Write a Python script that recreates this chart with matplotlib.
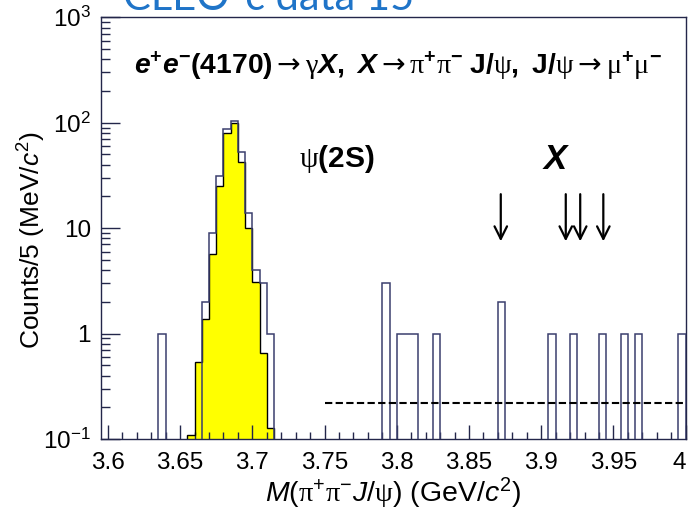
import numpy as np
import matplotlib
matplotlib.use('Agg')
import matplotlib.pyplot as plt
from matplotlib.ticker import MultipleLocator, FuncFormatter, LogLocator, FixedLocator, FixedFormatter, NullFormatter

plt.rcParams.update({
    'font.family': ['Liberation Sans', 'DejaVu Sans'],
    'mathtext.fontset': 'custom',
    'mathtext.rm': 'Liberation Sans',
    'mathtext.it': 'Liberation Sans:italic',
    'mathtext.bf': 'Liberation Sans:bold',
    'mathtext.bfit': 'Liberation Sans:bold:italic',
    'mathtext.sf': 'Liberation Serif',
    'mathtext.tt': 'DejaVu Sans',
})

# ---------------- data ----------------
bin_width = 0.005
x_range = (3.595, 4.0)
y_range = (0.1, 1000)

# data histogram (counts per 5 MeV bin), lower bin edges
data_bin_low = [3.635, 3.665, 3.670, 3.675, 3.680, 3.685, 3.690, 3.695, 3.700,
                3.705, 3.710, 3.790, 3.800, 3.805, 3.810, 3.825, 3.870, 3.905,
                3.920, 3.940, 3.955, 3.965, 3.995]
data_counts = [1, 2, 9, 31, 87, 103, 53, 14, 4, 3, 1, 3, 1, 1, 1, 1, 2, 1, 1, 1, 1, 1, 1]

# yellow (psi(2S)) histogram
sig_bin_low = [3.655, 3.660, 3.665, 3.670, 3.675, 3.680, 3.685, 3.690, 3.695,
               3.700, 3.705, 3.710]
sig_values = [0.11, 0.54, 1.39, 5.7, 24.9, 80, 100, 42, 10, 3.1, 0.65, 0.128]

# X candidate arrows
arrow_x = [3.872, 3.917, 3.927, 3.943]
arrow_top = 21
arrow_bottom = 7.5

# background level (dashed)
bkg_level = 0.22
bkg_x = [3.75, 4.0]

xtick_vals = [3.6, 3.65, 3.7, 3.75, 3.8, 3.85, 3.9, 3.95, 4.0]
xtick_labels = ['3.6', '3.65', '3.7', '3.75', '3.8', '3.85', '3.9', '3.95', '4']
ytick_vals = [0.1, 1, 10, 100, 1000]
ytick_labels = [r'$10^{-1}$', '1', '10', r'$10^{2}$', r'$10^{3}$']

ARW = r'\mathtt{\rightarrow}'
title_text = (r'$\mathbfit{e}^{\mathbf{+}}\mathbfit{e}^{\mathbf{-}}\mathbf{(4170)}' + ARW +
              r'\mathsf{\gamma}\mathbfit{X}\mathbf{,}\;\;\mathbfit{X}' + ARW +
              r'\mathsf{\pi}^{\mathbf{+}}\mathsf{\pi}^{\mathbf{-}}\;\mathbf{J/}\mathsf{\psi}\mathbf{,}\;\;'
              r'\mathbf{J/}\mathsf{\psi}' + ARW + r'\mathsf{\mu}^{\mathbf{+}}\mathsf{\mu}^{\mathbf{-}}$')

# ---------------- build ----------------
edges = np.round(np.arange(x_range[0], x_range[1] + bin_width / 2, bin_width), 4)


def to_dense(lows, vals):
    dense = np.zeros(len(edges) - 1)
    idx = np.round((np.array(lows) - x_range[0]) / bin_width).astype(int)
    dense[idx] = vals
    return dense


floor = 1e-3
data_h = to_dense(data_bin_low, data_counts)
sig_h = to_dense(sig_bin_low, sig_values)
data_plot = np.where(data_h > 0, data_h, floor)
sig_plot = np.where(sig_h > 0, sig_h, floor)

fig = plt.figure(figsize=(6.9, 5.16), dpi=100)
ax = fig.add_axes([0.1459, 0.1492, 0.8478, 0.8173])
ax.set_yscale('log')

hist_col = '#3b3f6e'
axis_col = '#23264a'

ax.stairs(sig_plot, edges, baseline=floor, fill=True, facecolor='#ffff00',
          edgecolor='none', zorder=1)
ax.stairs(sig_plot, edges, baseline=floor, fill=False, color='black', lw=1.0, zorder=2)
ax.stairs(data_plot, edges, baseline=floor, fill=False, color=hist_col, lw=1.1, zorder=3)

ax.plot(bkg_x, [bkg_level, bkg_level], color='black', lw=1.5, ls=(0, (3.5, 1.6)), zorder=4)

for xa in arrow_x:
    ax.annotate('', xy=(xa, arrow_bottom), xytext=(xa, arrow_top),
                arrowprops=dict(arrowstyle='->,head_length=0.6,head_width=0.3',
                                lw=1.6, color='black', mutation_scale=15,
                                shrinkA=0, shrinkB=0), zorder=5)

ax.set_xlim(*x_range)
ax.set_ylim(*y_range)

ax.xaxis.set_major_locator(FixedLocator(xtick_vals))
ax.xaxis.set_major_formatter(FixedFormatter(xtick_labels))
ax.xaxis.set_minor_locator(MultipleLocator(0.01))
ax.yaxis.set_major_locator(FixedLocator(ytick_vals))
ax.yaxis.set_major_formatter(FixedFormatter(ytick_labels))
ax.yaxis.set_minor_locator(LogLocator(base=10, subs=np.arange(2, 10)))
ax.yaxis.set_minor_formatter(NullFormatter())

ax.tick_params(axis='both', which='both', direction='in', top=False, right=False,
               color=axis_col, labelcolor='black', labelsize=17.5)
ax.tick_params(axis='x', which='major', length=10, width=1.0, pad=9)
ax.tick_params(axis='x', which='minor', length=5, width=1.0)
ax.tick_params(axis='y', which='major', length=14, width=1.0, pad=7)
ax.tick_params(axis='y', which='minor', length=6.5, width=1.0)
for s in ax.spines.values():
    s.set_color(axis_col)
    s.set_linewidth(1.0)

# texts
ax.text(0.509, 0.8845, title_text, transform=ax.transAxes, ha='center', va='center',
        fontsize=20.3)
ax.text(0.404, 0.664, r'$\mathsf{\psi}\mathbf{(2S)}$', transform=ax.transAxes,
        ha='center', va='center', fontsize=21.5)
ax.text(0.778, 0.662, r'$\mathbfit{X}$', transform=ax.transAxes,
        ha='center', va='center', fontsize=25)

fig.text(393 / 690, 1 - 493 / 516, r'$M(\mathsf{\pi}^{+}\mathsf{\pi}^{-}J/\mathsf{\psi})$ (GeV/$c^{2}$)',
         ha='center', va='center', fontsize=20.5)
fig.text(32 / 690, 1 - 240 / 516, r'Counts/5 (MeV/$c^{2}$)', rotation=90,
         ha='center', va='center', fontsize=19)

fig.text(123 / 690, 1 - 10 / 516, 'CLEO-c data 15', ha='left', va='baseline',
         fontsize=30, color='#1f74c8', family='Lato')

# keep the last x tick label ("4") inside the figure, as in the reference
fig.canvas.draw()
for t in ax.get_xticklabels():
    if t.get_text() == xtick_labels[-1]:
        t.set_horizontalalignment('right')

fig.savefig('out.png', dpi=100)
